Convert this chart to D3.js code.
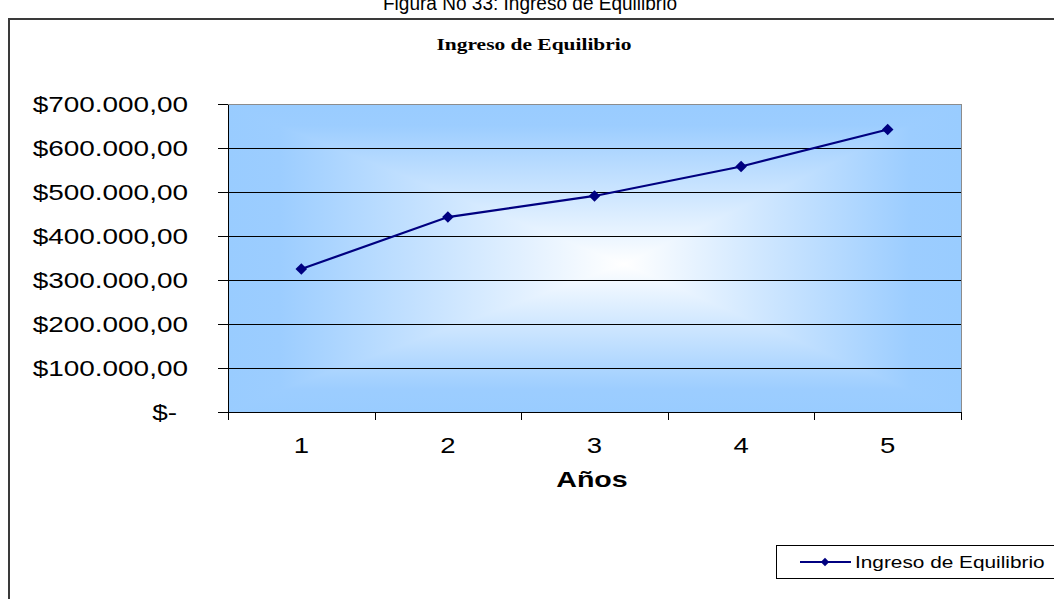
<!DOCTYPE html>
<html><head><meta charset="utf-8">
<script src="https://cdn.jsdelivr.net/npm/d3@7"></script>
<style>body{margin:0;background:#fff;overflow:hidden} svg{display:block}</style>
</head><body><svg id="c" width="1054" height="599"></svg>
<script>
// ---- data ----
const categories = ["1", "2", "3", "4", "5"];
const seriesName = "Ingreso de Equilibrio";
const values = [325000, 443000, 491000, 558000, 642000];
const yTickValues = [0, 100000, 200000, 300000, 400000, 500000, 600000, 700000];
const yTickLabels = ["$-", "$100.000,00", "$200.000,00", "$300.000,00", "$400.000,00", "$500.000,00", "$600.000,00", "$700.000,00"];
const captionText = "Figura No 33: Ingreso de Equilibrio";
const chartTitle = "Ingreso de Equilibrio";
const xAxisTitle = "Años";

// ---- layout ----
const svg = d3.select("#c");
const L = 228, R = 961, T = 104, B = 412;
const SANS = "'Liberation Sans', Arial, sans-serif";
const SERIF = "'Liberation Serif', 'Times New Roman', serif";

function stretch(sel, k) {
  sel.each(function () {
    const w = this.getComputedTextLength();
    d3.select(this).attr("textLength", w * k).attr("lengthAdjust", "spacingAndGlyphs");
  });
}

// caption (cut off at top)
svg.append("text").attr("x", 530).attr("y", 10).attr("text-anchor", "middle")
  .style("font-family", SANS).style("font-size", "20px").attr("fill", "#000")
  .attr("textLength", 294).attr("lengthAdjust", "spacingAndGlyphs")
  .text(captionText);

// outer chart frame
svg.append("path").attr("d", "M9,610V19H1070").attr("fill", "none")
  .attr("stroke", "#3a3a3a").attr("stroke-width", 2);

// title
svg.append("text").attr("x", 534).attr("y", 50).attr("text-anchor", "middle")
  .style("font-family", SERIF).style("font-weight", "bold").style("font-size", "17px")
  .attr("textLength", 195).attr("lengthAdjust", "spacingAndGlyphs")
  .text(chartTitle);

// gradients
const defs = svg.append("defs");
function lin(id, x2, y2, c) {
  const g = defs.append("linearGradient").attr("id", id)
    .attr("x1", 0).attr("y1", 0).attr("x2", x2).attr("y2", y2);
  [[0, "#99CCFF"], [0.07, "#9CCDFF"], [c, "#FFFFFF"], [1 - 0.07, "#9CCDFF"], [1, "#99CCFF"]]
    .forEach(([o, col]) => g.append("stop").attr("offset", o).attr("stop-color", col));
}
lin("gh", 1, 0, 0.54);
lin("gv", 0, 1, 0.52);

const plotBg = svg.append("g").style("isolation", "isolate");
plotBg.append("rect").attr("x", L).attr("y", T).attr("width", R - L).attr("height", B - T)
  .attr("fill", "url(#gh)");
plotBg.append("rect").attr("x", L).attr("y", T).attr("width", R - L).attr("height", B - T)
  .attr("fill", "url(#gv)").style("mix-blend-mode", "darken");

// scales
const x = d3.scaleBand().domain(categories).range([L, R]).paddingInner(0).paddingOuter(0);
const xEdges = d3.scaleLinear().domain([0, categories.length]).range([L, R]);
const y = d3.scaleLinear().domain([0, 700000]).range([B, T]);

// gridlines
svg.append("g").selectAll("line").data(yTickValues.filter(v => v > 0)).join("line")
  .attr("x1", L).attr("x2", R).attr("y1", d => y(d)).attr("y2", d => y(d))
  .attr("stroke", d => d === 700000 ? "#8c8c8c" : "#000").attr("stroke-width", 1)
  .attr("shape-rendering", "crispEdges");
// right border of plot area
svg.append("line").attr("x1", R).attr("x2", R).attr("y1", T).attr("y2", B)
  .attr("stroke", "#8c8c8c").attr("shape-rendering", "crispEdges");

// y axis
const yAxis = svg.append("g").attr("transform", `translate(${L},0)`)
  .call(d3.axisLeft(y).tickValues(yTickValues)
    .tickFormat((d, i) => yTickLabels[i]).tickSize(10).tickPadding(30).tickSizeOuter(0));
yAxis.selectAll("path,line").attr("stroke", "#000").attr("shape-rendering", "crispEdges");
yAxis.selectAll("text").style("font-family", SANS).style("font-size", "22px").attr("fill", "#000")
  .attr("dx", d => d === 0 ? -11 : 0)
  .call(stretch, 1.27);

// x axis: ticks at category boundaries
const xTicks = svg.append("g").attr("transform", `translate(0,${B})`)
  .call(d3.axisBottom(xEdges).tickValues(d3.range(categories.length + 1)).tickFormat("").tickSize(8).tickSizeOuter(0));
xTicks.selectAll("path,line").attr("stroke", "#000").attr("shape-rendering", "crispEdges");
// labels at category centers
const xLab = svg.append("g").attr("transform", `translate(0,${B})`)
  .call(d3.axisBottom(x).tickSize(0).tickPadding(25));
xLab.select(".domain").remove();
xLab.selectAll("text").style("font-family", SANS).style("font-size", "22px").attr("fill", "#000")
  .call(stretch, 1.25);

// x axis title
svg.append("text").attr("x", 592).attr("y", 487).attr("text-anchor", "middle")
  .style("font-family", SANS).style("font-weight", "bold").style("font-size", "22px")
  .text(xAxisTitle).call(stretch, 1.3);

// series line
const cx = d => x(d) + x.bandwidth() / 2;
const lineGen = d3.line().x((d, i) => cx(categories[i])).y(d => y(d));
svg.append("path").datum(values).attr("d", lineGen).attr("fill", "none")
  .attr("stroke", "#000080").attr("stroke-width", 2.2);
const diamond = d3.symbol().type(d3.symbolDiamond2).size(85);
svg.append("g").selectAll("path").data(values).join("path")
  .attr("transform", (d, i) => `translate(${cx(categories[i])},${y(d)})`)
  .attr("d", diamond).attr("fill", "#000080");

// legend
const lg = svg.append("g");
lg.append("rect").attr("x", 776.5).attr("y", 545.5).attr("width", 300).attr("height", 33)
  .attr("fill", "#fff").attr("stroke", "#000");
lg.append("line").attr("x1", 800).attr("x2", 851).attr("y1", 562).attr("y2", 562)
  .attr("stroke", "#000080").attr("stroke-width", 2);
lg.append("path").attr("transform", "translate(825,562)")
  .attr("d", d3.symbol().type(d3.symbolDiamond2).size(45)).attr("fill", "#000080");
lg.append("text").attr("x", 855).attr("y", 568)
  .style("font-family", SANS).style("font-size", "16px").text(seriesName)
  .call(stretch, 1.3);
</script>
</body></html>
